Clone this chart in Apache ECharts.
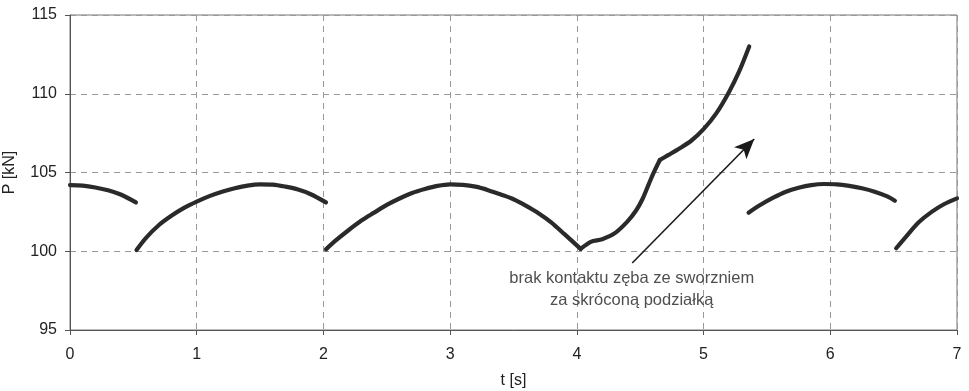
<!DOCTYPE html>
<html>
<head>
<meta charset="utf-8">
<script src="https://cdn.jsdelivr.net/npm/echarts@6/dist/echarts.min.js"></script>
<style>
html,body{margin:0;padding:0;background:#fff;}
#c{width:969px;height:391px;}
</style>
</head>
<body>
<div id="c"></div>
<script>
// --- data ---
var xTicks = [0, 1, 2, 3, 4, 5, 6, 7];
var yTicks = [95, 100, 105, 110, 115];

var seg1 = [[0, 104.2], [0.1, 104.17], [0.2, 104.05], [0.3, 103.87], [0.4, 103.6], [0.52, 103.1]];
var seg2 = [[0.525, 100.08], [0.6, 100.85], [0.7, 101.65], [0.8, 102.25], [0.9, 102.75], [1.0, 103.15],
            [1.1, 103.5], [1.2, 103.78], [1.3, 104.0], [1.4, 104.17], [1.5, 104.25], [1.6, 104.23],
            [1.7, 104.1], [1.8, 103.92], [1.9, 103.62], [2.02, 103.1]];
var seg3 = [[2.02, 100.12], [2.1, 100.7], [2.2, 101.35], [2.3, 101.95], [2.4, 102.45], [2.5, 102.94],
            [2.6, 103.35], [2.7, 103.7], [2.8, 103.95], [2.9, 104.15], [3.0, 104.25], [3.1, 104.22],
            [3.2, 104.1], [3.3, 103.88], [3.4, 103.6], [3.5, 103.3], [3.6, 102.88], [3.7, 102.4],
            [3.8, 101.82], [3.9, 101.1], [4.03, 100.15]];
var seg4a = [[4.03, 100.15], [4.11, 100.6], [4.2, 100.76], [4.3, 101.15], [4.4, 101.9], [4.47, 102.62],
             [4.52, 103.35], [4.57, 104.31], [4.61, 105.05], [4.655, 105.79]];
var seg4b = [[4.655, 105.79], [4.72, 106.1], [4.8, 106.48], [4.9, 107.0], [5.0, 107.75], [5.1, 108.75],
             [5.2, 110.1], [5.28, 111.4], [5.36, 113.0]];
var seg5 = [[5.355, 102.45], [5.45, 102.95], [5.55, 103.4], [5.65, 103.78], [5.75, 104.03], [5.85, 104.2],
            [5.95, 104.27], [6.05, 104.25], [6.15, 104.15], [6.25, 104.0], [6.35, 103.78], [6.45, 103.48],
            [6.51, 103.21]];
var seg6 = [[6.52, 100.19], [6.6, 100.95], [6.7, 101.85], [6.8, 102.5], [6.9, 103.0], [7.0, 103.36]];

var arrowStart = [4.437, 99.25];
var arrowEnd = [5.40, 107.13];
var noteText = ['brak kontaktu zęba ze sworzniem', 'za skróconą podziałką'];
var notePos = [4.433, 97.6];

var segments = [seg1, seg2, seg3, seg4a, seg4b, seg5, seg6];

var FONT = '"Liberation Sans", Arial, sans-serif';
var lineColor = '#2a2a2a';

var series = segments.map(function (s) {
  return {
    type: 'line',
    data: s,
    smooth: 0.3,
    showSymbol: false,
    symbol: 'none',
    lineStyle: { color: lineColor, width: 4.2, cap: 'round', join: 'round' },
    animation: false,
    z: 5
  };
});

series.push({
  type: 'line',
  data: [],
  symbol: 'none',
  animation: false,
  markLine: {
    silent: true,
    animation: false,
    symbol: ['none', 'arrow'],
    symbolSize: [13, 20],
    label: { show: false },
    lineStyle: { color: '#1a1a1a', width: 1.6, type: 'solid' },
    data: [[{ coord: arrowStart }, { coord: arrowEnd }]]
  }
});

series.push({
  type: 'scatter',
  data: [notePos],
  symbolSize: 0,
  animation: false,
  silent: true,
  label: {
    show: true,
    position: 'inside',
    formatter: noteText.join('\n'),
    fontFamily: FONT,
    fontSize: 16.5,
    lineHeight: 22,
    color: '#222',
    align: 'center',
    verticalAlign: 'middle'
  }
});

var chart = echarts.init(document.getElementById('c'), null, { renderer: 'canvas' });
chart.setOption({
  backgroundColor: '#fff',
  animation: false,
  grid: { left: 70, top: 15, width: 887, height: 315, show: true, borderColor: '#777', borderWidth: 1, backgroundColor: 'transparent', containLabel: false, outerBoundsMode: 'none' },
  xAxis: {
    type: 'value',
    min: xTicks[0],
    max: xTicks[xTicks.length - 1],
    interval: 1,
    name: 't [s]',
    nameLocation: 'middle',
    nameGap: 43,
    nameTextStyle: { fontFamily: FONT, fontSize: 16, color: '#222' },
    axisLine: { show: true, lineStyle: { color: '#555', width: 1 } },
    axisTick: { show: true, inside: false, length: 5, lineStyle: { color: '#555' } },
    axisLabel: { fontFamily: FONT, fontSize: 16, color: '#222', margin: 17 },
    splitLine: { show: true, lineStyle: { color: '#999', type: [6, 5], width: 1 } }
  },
  yAxis: {
    type: 'value',
    min: yTicks[0],
    max: yTicks[yTicks.length - 1],
    interval: 5,
    name: 'P [kN]',
    nameLocation: 'middle',
    nameRotate: 90,
    nameGap: 52,
    nameTextStyle: { fontFamily: FONT, fontSize: 16, color: '#222' },
    axisLine: { show: true, lineStyle: { color: '#555', width: 1 } },
    axisTick: { show: true, inside: false, length: 5, lineStyle: { color: '#555' } },
    axisLabel: { fontFamily: FONT, fontSize: 16, color: '#222', margin: 13 },
    splitLine: { show: true, lineStyle: { color: '#999', type: [6, 5], width: 1 } }
  },
  series: series
});
</script>
</body>
</html>
